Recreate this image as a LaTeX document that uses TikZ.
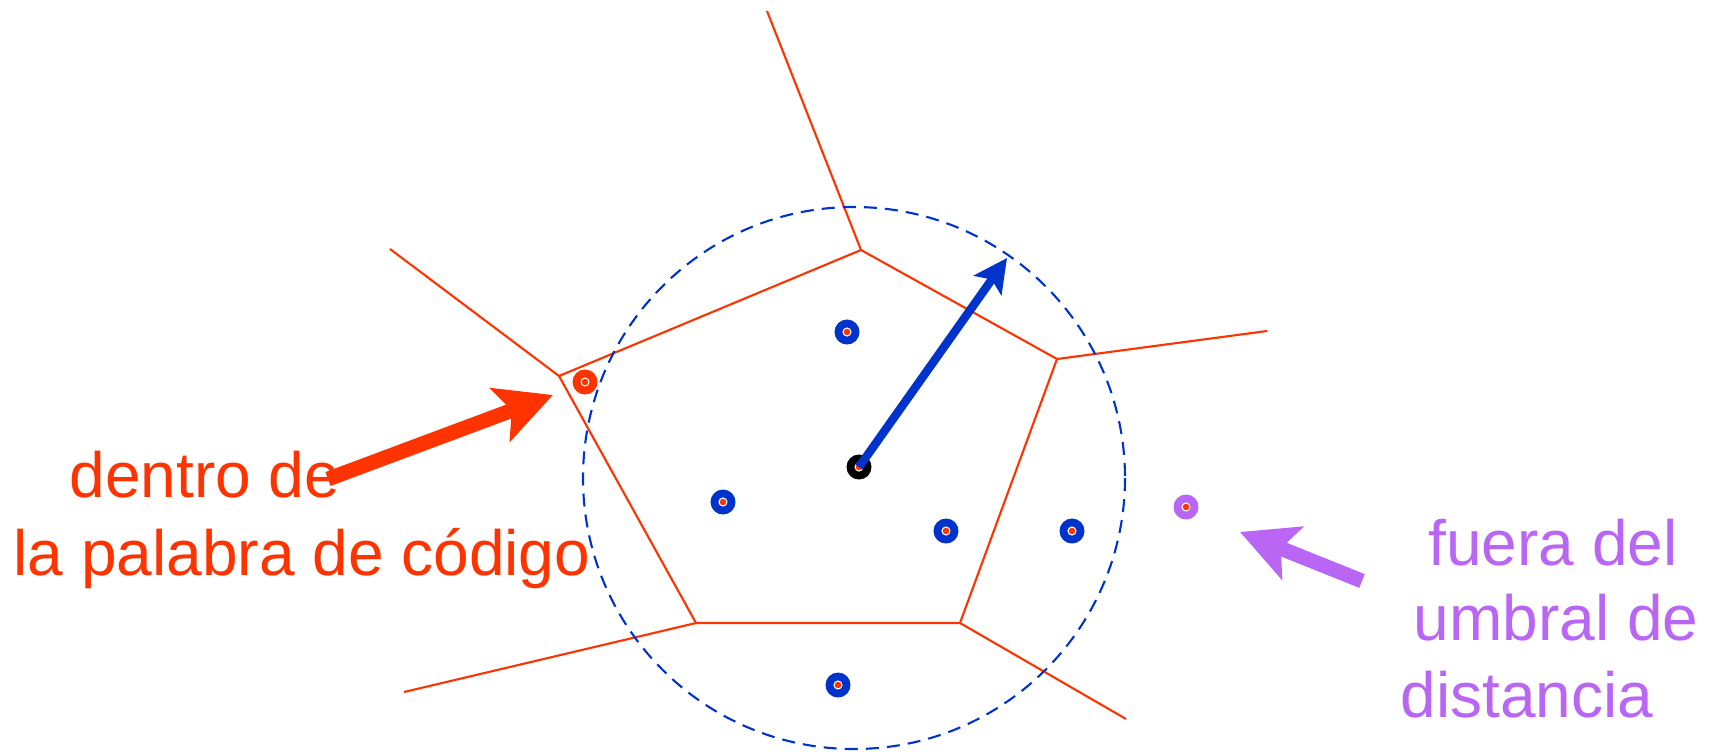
\documentclass[tikz,border=0pt]{standalone}
\usepackage{fontspec}
\setmainfont{Liberation Sans}
\usetikzlibrary{arrows.meta}
\definecolor{cellred}{RGB}{255,51,0}
\definecolor{cwblue}{RGB}{0,51,204}
\definecolor{farpurple}{RGB}{185,102,245}
\tikzset{
  voronoifig/.style={x=0.01cm,y=-0.01cm,
    every node/.style={font=\fontsize{18.2}{22}\selectfont,inner sep=0pt}},
  cell/.style={draw=cellred,line width=0.6pt},
  radius/.style={draw=cwblue,line width=0.6pt,dash pattern=on 3.7pt off 2.3pt},
  pt/.style={circle,minimum size=0.25cm,
    path picture={\draw[white,line width=0.3pt,fill=cellred]
      (path picture bounding box.center) circle (0.04cm);}},
  bigarrow/.style={line width=4.2pt,-{Stealth[length=16pt,width=16pt,inset=3.5pt]}},
  thinarrow/.style={draw=cwblue,line width=2.4pt,-{Stealth[length=9.5pt,width=9.5pt,inset=2pt]}},
}
\begin{document}
\begin{tikzpicture}[voronoifig]
  \useasboundingbox (0,0) rectangle (1711,751);
  % voronoi cell of the codeword
  \coordinate (vt) at (861,250);
  \coordinate (vr) at (1057,359);
  \coordinate (vbr) at (960,623);
  \coordinate (vbl) at (696,623);
  \coordinate (vl) at (559,376);
  \coordinate (ot) at (767,11);
  \coordinate (or) at (1267,331);
  \coordinate (obr) at (1126,719);
  \coordinate (obl) at (404,692);
  \coordinate (ol) at (390,249);
  \draw[cell] (vt) -- (vr) -- (vbr) -- (vbl) -- (vl) -- cycle;
  \draw[cell] (vt) -- (ot);
  \draw[cell] (vr) -- (or);
  \draw[cell] (vbr) -- (obr);
  \draw[cell] (vbl) -- (obl);
  \draw[cell] (vl) -- (ol);

  % distance threshold
  \coordinate (mid) at (854,478);
  \draw[radius] (mid) circle (271);

  % points
  \node[pt,fill=black] (cw) at (859,467) {};
  \node[pt,fill=cwblue] (p1) at (847,332) {};
  \node[pt,fill=cwblue] (p2) at (723,502) {};
  \node[pt,fill=cwblue] (p3) at (946,531) {};
  \node[pt,fill=cwblue] (p4) at (1072,531) {};
  \node[pt,fill=cwblue] (p5) at (838,685) {};
  \node[pt,fill=cellred] (inpt) at (585,382) {};
  \node[pt,fill=farpurple] (outpt) at (1186,507) {};

  \coordinate (rim) at (1007,258);
  \draw[thinarrow] (cw.center) -- (rim);

  % labels
  \node[text=cellred,anchor=base] (inlab1) at (205,497) {dentro de};
  \node[text=cellred,anchor=base] (inlab2) at (302,575) {la palabra de código};
  \coordinate (intail) at (328,479);
  \coordinate (intip) at (553,395);
  \draw[bigarrow,cellred] (intail) -- (intip);

  \node[text=farpurple,anchor=base] (outlab1) at (1553,565) {fuera del};
  \node[text=farpurple,anchor=base] (outlab2) at (1556,640) {umbral de};
  \node[text=farpurple,anchor=base] (outlab3) at (1527,717) {distancia};
  \coordinate (outtail) at (1362,581);
  \coordinate (outtip) at (1240,532);
  \draw[bigarrow,farpurple] (outtail) -- (outtip);
\end{tikzpicture}
\end{document}
